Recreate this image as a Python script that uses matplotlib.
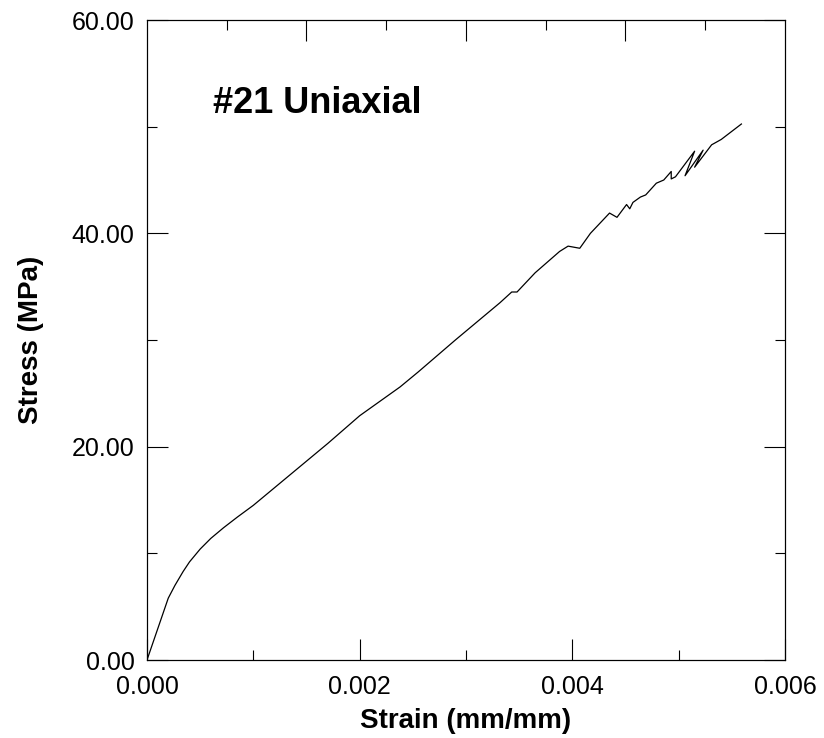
import matplotlib
matplotlib.use("Agg")
import matplotlib.pyplot as plt
from matplotlib.ticker import MultipleLocator, FixedLocator, NullFormatter, FormatStrFormatter

plt.rcParams['font.family'] = ['Liberation Sans', 'DejaVu Sans']

strain = [0.0, 0.0002, 0.000263, 0.00034, 0.0004, 0.0005, 0.0006, 0.00072, 0.00085, 0.001,
          0.00135, 0.0017,
          0.002, 0.00238, 0.00255, 0.0029, 0.00332, 0.00343, 0.00348, 0.00365, 0.00388,
          0.00396, 0.00407, 0.00417, 0.00435, 0.00442, 0.00451, 0.00454, 0.00457,
          0.00464, 0.00469, 0.00479, 0.00486, 0.00493, 0.00493, 0.00497, 0.00515,
          0.00506, 0.00523, 0.00515, 0.00531, 0.0054, 0.00559]
stress = [0.0, 5.8, 7.0, 8.3, 9.2, 10.4, 11.4, 12.4, 13.4, 14.5,
          17.4, 20.3,
          22.9, 25.6, 27.0, 30.0, 33.5, 34.5, 34.5, 36.3, 38.3,
          38.8, 38.6, 40.0, 41.9, 41.5, 42.7, 42.3, 42.9,
          43.4, 43.6, 44.7, 45.0, 45.8, 45.1, 45.3, 47.7,
          45.4, 47.8, 46.2, 48.3, 48.8, 50.25]

title_text = "#21 Uniaxial"
x_label = "Strain (mm/mm)"
y_label = "Stress (MPa)"

fig = plt.figure(figsize=(8.24, 7.38), dpi=100)
ax = fig.add_axes([147/824, 1 - 660/738, 638/824, 640/738])

ax.plot(strain, stress, color='black', lw=0.9)

ax.set_xlim(0, 0.006)
ax.set_ylim(0, 60)
ax.xaxis.set_major_locator(MultipleLocator(0.002))
ax.xaxis.set_minor_locator(MultipleLocator(0.001))
ax.yaxis.set_major_locator(MultipleLocator(20))
ax.yaxis.set_minor_locator(MultipleLocator(10))
ax.xaxis.set_major_formatter(FormatStrFormatter('%.3f'))
ax.yaxis.set_major_formatter(FormatStrFormatter('%.2f'))

ax.tick_params(which='major', direction='in', length=15, width=0.8, labelsize=18,
               left=True, right=True, bottom=True, top=False)
ax.tick_params(which='minor', direction='in', length=7.5, width=0.8,
               left=True, right=True, bottom=True, top=False)
ax.tick_params(axis='y', which='major', pad=9)
ax.tick_params(axis='x', which='major', pad=11)

# top axis with its own division
ax2 = ax.twiny()
ax2.set_xlim(0, 1)
ax2.xaxis.set_major_locator(FixedLocator([0.25, 0.5, 0.75]))
ax2.xaxis.set_minor_locator(FixedLocator([0.125, 0.375, 0.625, 0.875]))
ax2.xaxis.set_major_formatter(NullFormatter())
ax2.tick_params(which='major', direction='in', length=15, width=0.8)
ax2.tick_params(which='minor', direction='in', length=7.5, width=0.8)

for a in (ax, ax2):
    for s in a.spines.values():
        s.set_linewidth(0.8)

ax.set_xlabel(x_label, fontsize=20, fontweight='bold', labelpad=6)
ax.set_ylabel(y_label, fontsize=20, fontweight='bold', labelpad=20)

ax.text(0.00062, 52.2, title_text, fontsize=26, fontweight='bold', va='center', ha='left')

fig.savefig("out.png", dpi=100)
